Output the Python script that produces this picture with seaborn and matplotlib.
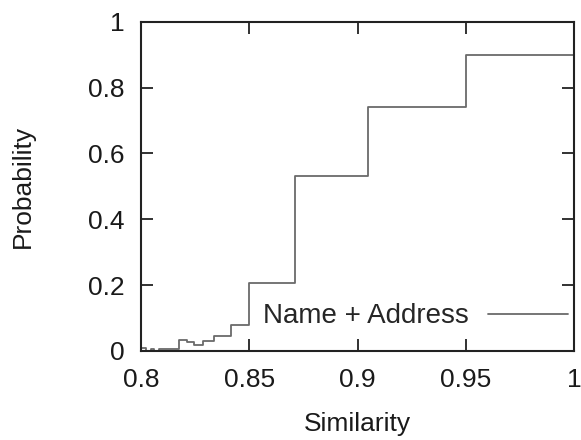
import matplotlib
matplotlib.use("Agg")
import matplotlib.pyplot as plt
import seaborn as sns
import pandas as pd
from matplotlib.ticker import FuncFormatter

# Data (step function, 'post' steps)
similarity = [0.800, 0.8025, 0.8045, 0.806, 0.8085, 0.810, 0.8177, 0.8211,
              0.8246, 0.8288, 0.8337, 0.8415, 0.850, 0.871, 0.905, 0.950, 1.000]
probability = [0.008, 0.000, 0.006, 0.000, 0.006, 0.005, 0.034, 0.027,
               0.019, 0.031, 0.044, 0.078, 0.206, 0.532, 0.742, 0.900, 0.900]
series_name = "Name + Address"
x_ticks = [0.8, 0.85, 0.9, 0.95, 1.0]
y_ticks = [0, 0.2, 0.4, 0.6, 0.8, 1.0]

df = pd.DataFrame({"Similarity": similarity, "Probability": probability,
                   "series": series_name})

sns.set_theme(style="white")
plt.rcParams["font.family"] = ["Liberation Sans", "DejaVu Sans"]

fig = plt.figure(figsize=(5.81, 4.4), dpi=100)
ax = fig.add_axes([0.2427, 0.2023, 0.988 - 0.2427, 0.9507 - 0.2023])

sns.lineplot(data=df, x="Similarity", y="Probability", hue="series",
             palette=["#6a6a6a"], drawstyle="steps-post", linewidth=1.3,
             ax=ax, legend=True)

ax.set_xlim(0.8, 1.0)
ax.set_ylim(0, 1)
ax.set_xticks(x_ticks)
ax.set_yticks(y_ticks)
fmt = FuncFormatter(lambda v, p: f"{v:g}")
ax.xaxis.set_major_formatter(fmt)
ax.yaxis.set_major_formatter(fmt)
ax.tick_params(axis="both", which="major", direction="in", length=8.5,
               width=1.3, color="#222222", labelsize=19, pad=12,
               top=True, right=True, bottom=True, left=True,
               labelcolor="#1a1a1a")
for s in ax.spines.values():
    s.set_color("#222222")
    s.set_linewidth(1.5)
    s.set_visible(True)

ax.set_xlabel("Similarity", fontsize=19, color="#1a1a1a", labelpad=15)
ax.set_ylabel("Probability", fontsize=19, color="#1a1a1a", labelpad=38)

handles, labels = ax.get_legend_handles_labels()
ax.legend(handles, labels, loc="center right", bbox_to_anchor=(0.985, 0.105),
          frameon=False, markerfirst=False, fontsize=20, handlelength=2.85,
          handletextpad=0.7, borderpad=0, borderaxespad=0)

fig.savefig("out.png", dpi=100)
